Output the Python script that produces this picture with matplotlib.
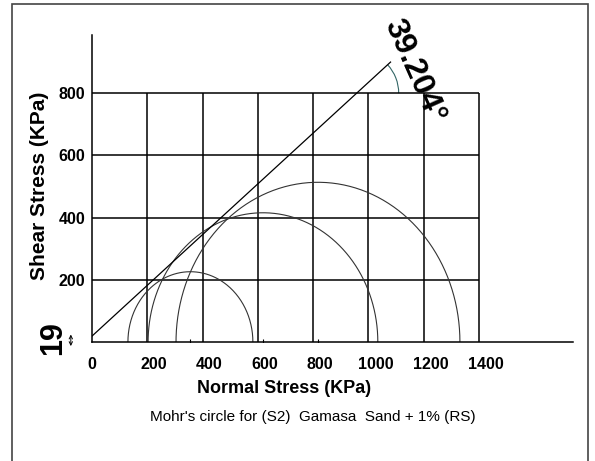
import numpy as np
import matplotlib.pyplot as plt
from matplotlib.patches import Arc, Rectangle
from matplotlib.transforms import ScaledTranslation, blended_transform_factory

plt.rcParams['font.family'] = ['Liberation Sans', 'DejaVu Sans']

# Mohr circles (KPa)
sigma3 = [130, 203, 304]
sigma1 = [582, 1034, 1331]

# failure envelope
c = 19          # cohesion intercept
phi = 39.204    # friction angle, deg
env_end = 1080  # where the drawn envelope stops

x_ticks = [0, 200, 400, 600, 800, 1000, 1200, 1400]
y_ticks = [200, 400, 600, 800]
x_grid = [200, 400, 600, 800, 1000, 1200, 1400]
y_grid = [200, 400, 600, 800]

fig = plt.figure(figsize=(5.95, 4.61), dpi=100)
fig.set_facecolor('w')
ax = fig.add_axes([0.1546, 0.2581, 0.8084, 0.666])

# grid box only up to 1400 / 800
ax.vlines(x_grid, 0, max(y_grid), color='k', lw=1.1)
ax.hlines(y_grid, 0, max(x_grid), color='k', lw=1.1)

# circles
t = np.linspace(0, np.pi, 300)
centers = []
for s3, s1 in zip(sigma3, sigma1):
    cen = (s1 + s3) / 2
    r = (s1 - s3) / 2
    centers.append(cen)
    ax.plot(cen + r * np.cos(t), r * np.sin(t), color='#333333', lw=0.8)
ax.plot(centers, np.zeros(len(centers)), '|', color='k', ms=5, mew=0.8)

# envelope
tan_phi = np.tan(np.radians(phi))
xe = np.array([0, env_end])
ax.plot(xe, c + tan_phi * xe, color='k', lw=0.9)

# angle arc at the 800 grid line
xi = (max(y_grid) - c) / tan_phi
ax.add_patch(Arc((xi, max(y_grid)), 2 * 152, 2 * 135, theta1=0, theta2=phi,
                 color='#336666', lw=0.8))
ax.text(env_end + 85, 872, '%.3f°' % phi, rotation=-66, ha='center', va='center',
        fontsize=23, fontweight='bold', rotation_mode='anchor')

# cohesion marker
bt = blended_transform_factory(ax.transAxes, ax.transData)
ax.text(-0.081, c - 6, str(c), transform=bt, rotation=90, ha='center',
        va='center', fontsize=22, fontweight='bold')
ax.annotate('', xy=(-0.044, -22), xycoords=bt, xytext=(-0.044, c + 14), textcoords=bt,
            arrowprops=dict(arrowstyle='<->', lw=0.7, mutation_scale=6, color='k'))

ax.set_xlim(0, 1740)
ax.set_ylim(0, 987)
ax.set_xticks(x_ticks)
ax.set_yticks(y_ticks)
ax.tick_params(axis='x', length=0, pad=10.5, labelsize=11.5)
ax.tick_params(axis='y', length=0, pad=5, labelsize=11.5)
for lbl in ax.get_xticklabels() + ax.get_yticklabels():
    lbl.set_fontweight('bold')
shift = ScaledTranslation(0.07, 0, fig.dpi_scale_trans)
for lbl in ax.get_xticklabels()[1:]:
    lbl.set_transform(lbl.get_transform() + shift)

for s in ['top', 'right']:
    ax.spines[s].set_visible(False)
for s in ['left', 'bottom']:
    ax.spines[s].set_linewidth(1.1)

ax.set_xlabel('Normal Stress (KPa)', fontsize=13, fontweight='bold')
ax.xaxis.set_label_coords(0.40, -0.124)
ax.set_ylabel('Shear Stress (KPa)', fontsize=15, fontweight='bold')
ax.yaxis.set_label_coords(-0.09, 0.51)

fig.text(0.525, 0.0955, "Mohr's circle for (S2)  Gamasa  Sand + 1% (RS)",
         ha='center', va='center', fontsize=11)

fig.add_artist(Rectangle((0.02, -0.05), 0.968, 1.041, transform=fig.transFigure,
                         fill=False, lw=1.2, ec='#444444'))

fig.savefig('out.png', dpi=100)
